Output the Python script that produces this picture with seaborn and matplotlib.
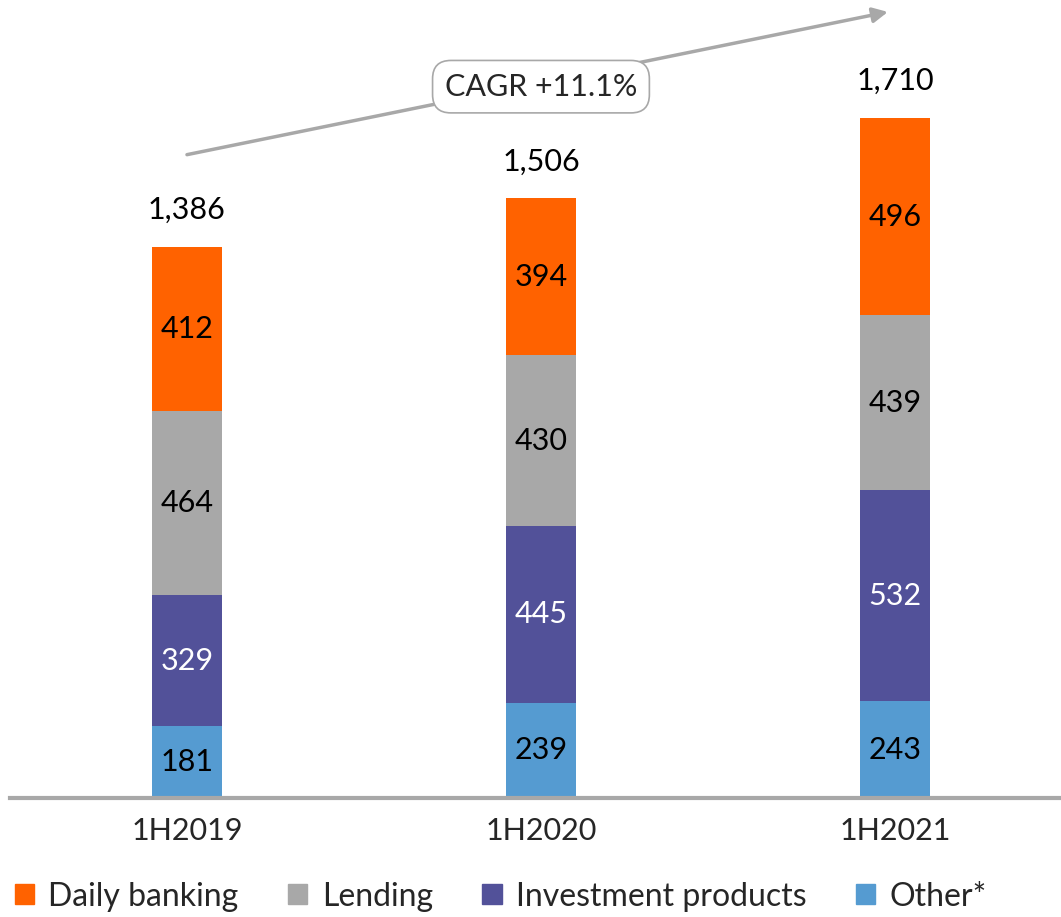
import matplotlib
matplotlib.use("Agg")
import matplotlib.pyplot as plt
import matplotlib.patches as mpatches
import seaborn as sns
import pandas as pd
import numpy as np

# data
periods = ["1H2019", "1H2020", "1H2021"]
segments = ["Daily banking", "Lending", "Investment products", "Other*"]
daily_banking = [412, 394, 496]
lending = [464, 430, 439]
investment = [329, 445, 532]
other = [181, 239, 243]
totals = [1386, 1506, 1710]
cagr_label = "CAGR +11.1%"

colors = {"Daily banking": "#FF6200", "Lending": "#A8A8A8",
          "Investment products": "#525199", "Other*": "#559BD1"}
label_colors = {"Daily banking": "black", "Lending": "black",
                "Investment products": "white", "Other*": "black"}

sns.set_style("white")
plt.rcParams["font.family"] = ["Lato", "DejaVu Sans"]

df = pd.DataFrame({"period": periods, "Other*": other, "Investment products": investment,
                   "Lending": lending, "Daily banking": daily_banking})
stack_order = ["Other*", "Investment products", "Lending", "Daily banking"]
cum = df[stack_order].cumsum(axis=1)

fig = plt.figure(figsize=(10.61, 9.17), dpi=100)
ax = fig.add_axes([0.0094, 0.1298, 0.9906, 0.8702])

# draw cumulative bars, tallest first, so each segment shows on top of the next
for seg in reversed(stack_order):
    sns.barplot(x=df["period"], y=cum[seg], color=colors[seg], width=0.198,
                saturation=1, ax=ax, order=periods, linewidth=0)

# segment labels
for seg in stack_order:
    for i, p in enumerate(periods):
        top = cum.loc[i, seg]
        mid = top - df.loc[i, seg] / 2
        ax.text(i, mid, f"{df.loc[i, seg]}", ha="center", va="center",
                fontsize=22, color=label_colors[seg])

# totals
for i, t in enumerate(totals):
    ax.text(i, t + 93, f"{t:,}", ha="center", va="center", fontsize=22, color="black")

# CAGR arrow
ax.annotate("", xy=(1.98, 1977), xytext=(0.0, 1618),
            arrowprops=dict(arrowstyle="-|>,head_length=0.9,head_width=0.45",
                            color="#A8A8A8", lw=2.5, shrinkA=0, shrinkB=0))
ax.text(1.0, 1789, cagr_label, ha="center", va="center", fontsize=22,
        bbox=dict(boxstyle="round,pad=0.4,rounding_size=0.6", fc="white",
                  ec="#A8A8A8", lw=1.2))

ax.set_xlim(-0.5, 2.469)
ax.set_ylim(0, 2007)
ax.set_xlabel("")
ax.set_ylabel("")
ax.set_yticks([])
ax.tick_params(axis="x", length=0, labelsize=22, pad=14)
for s in ["top", "right", "left"]:
    ax.spines[s].set_visible(False)
ax.spines["bottom"].set_color("#A8A8A8")
ax.spines["bottom"].set_linewidth(3)

handles = [mpatches.Patch(color=colors[s], label=s) for s in segments]
fig.legend(handles=handles, loc="lower left", bbox_to_anchor=(0.002, -0.008), ncol=4,
           frameon=False, fontsize=23, handlelength=0.6, handleheight=0.6,
           handletextpad=0.45, columnspacing=1.55, borderaxespad=0)

fig.savefig("out.png", dpi=100)
